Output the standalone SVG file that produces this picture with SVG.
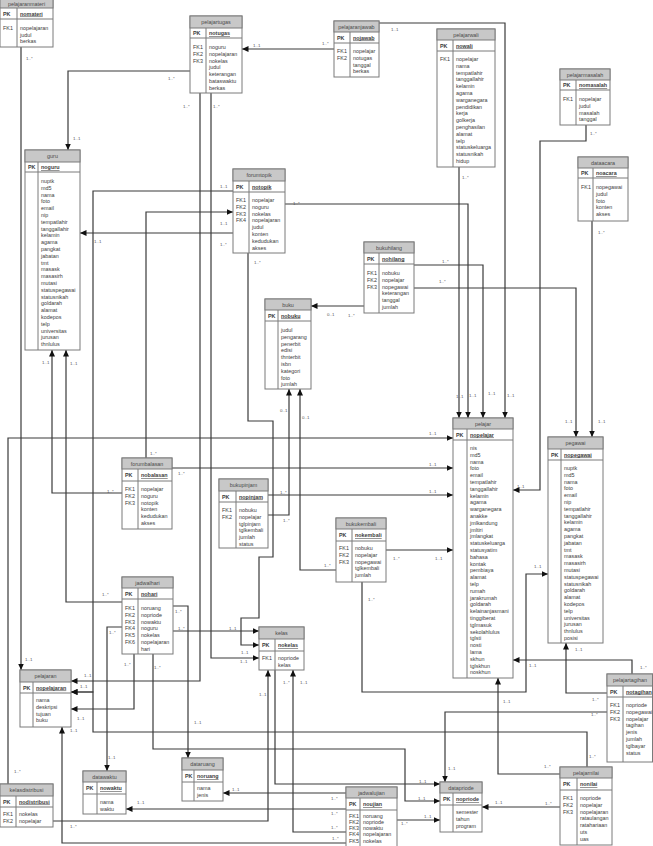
<svg xmlns="http://www.w3.org/2000/svg" width="653" height="846" viewBox="0 0 653 846">
<defs>
<style>
.box{fill:#fff;stroke:#7a7a7a;stroke-width:1}
.hdr{fill:#c8c8c8;stroke:#7a7a7a;stroke-width:1}
.sep{fill:none;stroke:#7a7a7a;stroke-width:1}
text{font-family:"Liberation Sans",Arial,sans-serif;font-size:5.4px;fill:#3c3c3c}
.t{text-anchor:middle;fill:#4a4a4a}
.k{font-weight:bold}
.pk{font-weight:bold;text-decoration:underline}
.c{fill:none;stroke:#3a3a3a;stroke-width:1.2;marker-end:url(#arr)}
.lb{font-size:4.4px;fill:#555}
</style>
<marker id="arr" markerUnits="userSpaceOnUse" markerWidth="7" markerHeight="6" refX="6.5" refY="3" orient="auto">
<path d="M0,0 L6.5,3 L0,6 z" fill="#111"/>
</marker>
</defs>
<rect x="0" y="0" width="653" height="846" fill="#fff"/>

<g id="connectors">
<path class="c" d="M21,47 V670"/>
<path class="c" d="M190,71 H68 V150"/>
<path class="c" d="M334,49 H242"/>
<path class="c" d="M200,93 V681 H71"/>
<path class="c" d="M211,93 V658 H259"/>
<path class="c" d="M379,23 H505 V418"/>
<path class="c" d="M459,167 V418"/>
<path class="c" d="M586,125 V141 H540 V490 H513"/>
<path class="c" d="M592,221 V437"/>
<path class="c" d="M233,233 H80"/>
<path class="c" d="M146,458 V212 H233"/>
<path class="c" d="M233,191 H93 V692 H71"/>
<path class="c" d="M285,204 H468 V418"/>
<path class="c" d="M248,253 V421 H273 V557 H259 V618 H241 V645 H259"/>
<path class="c" d="M364,306 H311"/>
<path class="c" d="M414,265 H483 V418"/>
<path class="c" d="M414,288 H576 V437"/>
<path class="c" d="M122,493 H52 V350"/>
<path class="c" d="M122,602 H66 V350"/>
<path class="c" d="M8,784 V438 H453"/>
<path class="c" d="M172,468 H453"/>
<path class="c" d="M268,495 H453"/>
<path class="c" d="M268,515 H289 V389"/>
<path class="c" d="M336,570 H300 V389"/>
<path class="c" d="M386,550 H453"/>
<path class="c" d="M362,582 V692 H526 V574 H548"/>
<path class="c" d="M173,631 H259"/>
<path class="c" d="M173,606 H188 V758"/>
<path class="c" d="M122,627 H107 V771"/>
<path class="c" d="M134,654 V709 H71"/>
<path class="c" d="M153,654 V749 H405 V801 H440"/>
<path class="c" d="M275,670 V784 H440"/>
<path class="c" d="M53,821 H268 V670"/>
<path class="c" d="M346,832 H293 V670"/>
<path class="c" d="M346,793 H223"/>
<path class="c" d="M346,809 H126"/>
<path class="c" d="M346,843 H62 V727"/>
<path class="c" d="M397,820 H440"/>
<path class="c" d="M560,807 H482"/>
<path class="c" d="M560,774 H498 V678"/>
<path class="c" d="M587,767 V732 H93 V692 H71"/>
<path class="c" d="M607,712 H445 V782"/>
<path class="c" d="M632,674 V660 H513"/>
<path class="c" d="M607,693 H566 V643"/>

<text class="lb" x="26" y="60">1..*</text><text class="lb" x="25" y="661">1..1</text>
<text class="lb" x="168" y="80">1..*</text><text class="lb" x="73" y="140">1..1</text>
<text class="lb" x="253" y="47">1..1</text><text class="lb" x="322" y="45">1..*</text>
<text class="lb" x="183" y="108">1..*</text><text class="lb" x="84" y="677">1..1</text>
<text class="lb" x="213" y="108">1..*</text><text class="lb" x="240" y="663">1..1</text>
<text class="lb" x="391" y="31">1..1</text><text class="lb" x="507" y="397">1..1</text>
<text class="lb" x="462" y="179">1..*</text><text class="lb" x="456" y="398">1..1</text>
<text class="lb" x="590" y="135">1..*</text><text class="lb" x="517" y="488">1..1</text>
<text class="lb" x="598" y="234">1..*</text><text class="lb" x="598" y="423">1..1</text>
<text class="lb" x="220" y="246">1..*</text><text class="lb" x="94" y="243">1..1</text>
<text class="lb" x="150" y="455">1..*</text><text class="lb" x="220" y="225">1..1</text>
<text class="lb" x="220" y="188">1..1</text><text class="lb" x="80" y="688">1..1</text>
<text class="lb" x="293" y="205">1..*</text><text class="lb" x="469" y="397">1..1</text>
<text class="lb" x="254" y="264">1..*</text><text class="lb" x="241" y="654">1..1</text>
<text class="lb" x="327" y="316">0..1</text><text class="lb" x="348" y="317">1..*</text>
<text class="lb" x="442" y="263">1..*</text><text class="lb" x="488" y="395">1..1</text>
<text class="lb" x="439" y="283">1..*</text><text class="lb" x="565" y="423">1..1</text>
<text class="lb" x="107" y="493">1..*</text><text class="lb" x="42" y="364">1..1</text>
<text class="lb" x="102" y="596">1..*</text><text class="lb" x="70" y="365">1..1</text>
<text class="lb" x="14" y="773">1..*</text><text class="lb" x="429" y="435">1..1</text>
<text class="lb" x="178" y="475">1..*</text><text class="lb" x="429" y="466">1..1</text>
<text class="lb" x="280" y="494">1..*</text><text class="lb" x="429" y="493">1..1</text>
<text class="lb" x="283" y="522">1..*</text><text class="lb" x="280" y="412">0..1</text>
<text class="lb" x="324" y="567">1..*</text><text class="lb" x="302" y="419">0..1</text>
<text class="lb" x="393" y="560">1..*</text><text class="lb" x="435" y="560">1..1</text>
<text class="lb" x="368" y="601">1..*</text><text class="lb" x="534" y="568">1..1</text>
<text class="lb" x="178" y="630">1..*</text><text class="lb" x="229" y="630">1..1</text>
<text class="lb" x="175" y="613">1..*</text><text class="lb" x="194" y="724">1..1</text>
<text class="lb" x="109" y="634">1..*</text><text class="lb" x="108" y="759">1..1</text>
<text class="lb" x="124" y="666">1..*</text><text class="lb" x="77" y="720">1..1</text>
<text class="lb" x="154" y="669">1..*</text><text class="lb" x="418" y="800">1..1</text>
<text class="lb" x="283" y="684">1..*</text><text class="lb" x="419" y="783">1..1</text>
<text class="lb" x="70" y="828">1..*</text><text class="lb" x="259" y="696">1..1</text>
<text class="lb" x="331" y="829">1..*</text><text class="lb" x="300" y="684">1..1</text>
<text class="lb" x="331" y="800">1..*</text><text class="lb" x="232" y="791">1..1</text>
<text class="lb" x="331" y="815">1..*</text><text class="lb" x="137" y="804">1..1</text>
<text class="lb" x="332" y="840">1..*</text><text class="lb" x="70" y="732">1..1</text>
<text class="lb" x="401" y="825">1..*</text><text class="lb" x="424" y="818">1..1</text>
<text class="lb" x="545" y="805">1..*</text><text class="lb" x="495" y="804">1..1</text>
<text class="lb" x="544" y="768">1..*</text><text class="lb" x="503" y="703">1..1</text>
<text class="lb" x="589" y="758">1..*</text>
<text class="lb" x="591" y="716">1..*</text><text class="lb" x="448" y="770">1..1</text>
<text class="lb" x="640" y="669">1..*</text><text class="lb" x="529" y="667">1..1</text>
<text class="lb" x="592" y="701">1..*</text><text class="lb" x="575" y="651">1..1</text>
</g>

<g id="pelajaranmateri">
<rect class="box" x="0" y="-1" width="53" height="48"/><rect class="hdr" x="0" y="-1" width="53" height="9"/>
<path class="sep" d="M0,19 H53 M17,8 V47"/>
<text class="t" x="26.5" y="5.5">pelajaranmateri</text>
<text class="k" x="3" y="15.5">PK</text><text class="pk" x="20" y="15.5">nomateri</text>
<text x="3" y="29.7">FK1</text>
<text y="29.7"><tspan x="20">nopelajaran</tspan><tspan x="20" dy="6.8">judul</tspan><tspan x="20" dy="6.8">berkas</tspan></text>
</g>

<g id="pelajartugas">
<rect class="box" x="190" y="16" width="52" height="77"/><rect class="hdr" x="190" y="16" width="52" height="12"/>
<path class="sep" d="M190,38 H242 M206,28 V93"/>
<text class="t" x="216" y="24">pelajartugas</text>
<text class="k" x="193" y="35">PK</text><text class="pk" x="209" y="35">notugas</text>
<text y="49"><tspan x="193">FK1</tspan><tspan x="193" dy="6.8">FK2</tspan><tspan x="193" dy="6.8">FK3</tspan></text>
<text y="49"><tspan x="209">noguru</tspan><tspan x="209" dy="6.8">nopelajaran</tspan><tspan x="209" dy="6.8">nokelas</tspan><tspan x="209" dy="6.8">judul</tspan><tspan x="209" dy="6.8">keterangan</tspan><tspan x="209" dy="6.8">bataswaktu</tspan><tspan x="209" dy="6.8">berkas</tspan></text>
</g>

<g id="pelajaranjawab">
<rect class="box" x="334" y="21" width="45" height="56"/><rect class="hdr" x="334" y="21" width="45" height="11"/>
<path class="sep" d="M334,43 H379 M350,32 V77"/>
<text class="t" x="356.5" y="28.5">pelajaranjawab</text>
<text class="k" x="337" y="39.5">PK</text><text class="pk" x="353" y="39.5">nojawab</text>
<text y="53"><tspan x="337">FK1</tspan><tspan x="337" dy="6.8">FK2</tspan></text>
<text y="53"><tspan x="353">nopelajar</tspan><tspan x="353" dy="6.8">notugas</tspan><tspan x="353" dy="6.8">tanggal</tspan><tspan x="353" dy="6.8">berkas</tspan></text>
</g>

<g id="pelajarwali">
<rect class="box" x="437" y="29" width="58" height="138"/><rect class="hdr" x="437" y="29" width="58" height="11"/>
<path class="sep" d="M437,51 H495 M453,40 V167"/>
<text class="t" x="466" y="36.5">pelajarwali</text>
<text class="k" x="440" y="47.5">PK</text><text class="pk" x="456" y="47.5">nowali</text>
<text x="440" y="61">FK1</text>
<text y="61"><tspan x="456">nopelajar</tspan><tspan x="456" dy="6.8">nama</tspan><tspan x="456" dy="6.8">tempatlahir</tspan><tspan x="456" dy="6.8">tanggallahir</tspan><tspan x="456" dy="6.8">kelamin</tspan><tspan x="456" dy="6.8">agama</tspan><tspan x="456" dy="6.8">warganegara</tspan><tspan x="456" dy="6.8">pendidikan</tspan><tspan x="456" dy="6.8">kerja</tspan><tspan x="456" dy="6.8">golkerja</tspan><tspan x="456" dy="6.8">penghasilan</tspan><tspan x="456" dy="6.8">alamat</tspan><tspan x="456" dy="6.8">telp</tspan><tspan x="456" dy="6.8">statuskeluarga</tspan><tspan x="456" dy="6.8">statusnikah</tspan><tspan x="456" dy="6.8">hidup</tspan></text>
</g>

<g id="pelajarmasalah">
<rect class="box" x="560" y="69" width="50" height="56"/><rect class="hdr" x="560" y="69" width="50" height="11"/>
<path class="sep" d="M560,90 H610 M576,80 V125"/>
<text class="t" x="585" y="76.5">pelajarmasalah</text>
<text class="k" x="563" y="87">PK</text><text class="pk" x="579" y="87">nomasalah</text>
<text x="563" y="101">FK1</text>
<text y="101"><tspan x="579">nopelajar</tspan><tspan x="579" dy="6.8">judul</tspan><tspan x="579" dy="6.8">masalah</tspan><tspan x="579" dy="6.8">tanggal</tspan></text>
</g>

<g id="dataacara">
<rect class="box" x="578" y="157" width="50" height="64"/><rect class="hdr" x="578" y="157" width="50" height="11"/>
<path class="sep" d="M578,178 H628 M593,168 V221"/>
<text class="t" x="603" y="164.5">dataacara</text>
<text class="k" x="581" y="175">PK</text><text class="pk" x="596" y="175">noacara</text>
<text x="581" y="189">FK1</text>
<text y="189"><tspan x="596">nopegawai</tspan><tspan x="596" dy="6.8">judul</tspan><tspan x="596" dy="6.8">foto</tspan><tspan x="596" dy="6.8">konten</tspan><tspan x="596" dy="6.8">akses</tspan></text>
</g>

<g id="guru">
<rect class="box" x="25" y="150" width="55" height="200"/><rect class="hdr" x="25" y="150" width="55" height="12"/>
<path class="sep" d="M25,172 H80 M38,162 V350"/>
<text class="t" x="52.5" y="158">guru</text>
<text class="k" x="28" y="169">PK</text><text class="pk" x="41" y="169">noguru</text>
<text y="183"><tspan x="41">nuptk</tspan><tspan x="41" dy="6.8">md5</tspan><tspan x="41" dy="6.8">nama</tspan><tspan x="41" dy="6.8">foto</tspan><tspan x="41" dy="6.8">email</tspan><tspan x="41" dy="6.8">nip</tspan><tspan x="41" dy="6.8">tempatlahir</tspan><tspan x="41" dy="6.8">tanggallahir</tspan><tspan x="41" dy="6.8">kelamin</tspan><tspan x="41" dy="6.8">agama</tspan><tspan x="41" dy="6.8">pangkat</tspan><tspan x="41" dy="6.8">jabatan</tspan><tspan x="41" dy="6.8">tmt</tspan><tspan x="41" dy="6.8">masask</tspan><tspan x="41" dy="6.8">masasirh</tspan><tspan x="41" dy="6.8">mutasi</tspan><tspan x="41" dy="6.8">statuspegawai</tspan><tspan x="41" dy="6.8">statusnikah</tspan><tspan x="41" dy="6.8">goldarah</tspan><tspan x="41" dy="6.8">alamat</tspan><tspan x="41" dy="6.8">kodepos</tspan><tspan x="41" dy="6.8">telp</tspan><tspan x="41" dy="6.8">universitas</tspan><tspan x="41" dy="6.8">jurusan</tspan><tspan x="41" dy="6.8">thnlulus</tspan></text>
</g>

<g id="forumtopik">
<rect class="box" x="233" y="169" width="52" height="84"/><rect class="hdr" x="233" y="169" width="52" height="12"/>
<path class="sep" d="M233,192 H285 M249,181 V253"/>
<text class="t" x="259" y="177">forumtopik</text>
<text class="k" x="236" y="188.5">PK</text><text class="pk" x="252" y="188.5">notopik</text>
<text y="202"><tspan x="236">FK1</tspan><tspan x="236" dy="6.8">FK2</tspan><tspan x="236" dy="6.8">FK3</tspan><tspan x="236" dy="6.8">FK4</tspan></text>
<text y="202"><tspan x="252">nopelajar</tspan><tspan x="252" dy="6.8">noguru</tspan><tspan x="252" dy="6.8">nokelas</tspan><tspan x="252" dy="6.8">nopelajaran</tspan><tspan x="252" dy="6.8">judul</tspan><tspan x="252" dy="6.8">konten</tspan><tspan x="252" dy="6.8">kedudukan</tspan><tspan x="252" dy="6.8">akses</tspan></text>
</g>

<g id="bukuhilang">
<rect class="box" x="364" y="242" width="50" height="71"/><rect class="hdr" x="364" y="242" width="50" height="11"/>
<path class="sep" d="M364,264 H414 M379,253 V313"/>
<text class="t" x="389" y="249.5">bukuhilang</text>
<text class="k" x="367" y="260.5">PK</text><text class="pk" x="382" y="260.5">nohilang</text>
<text y="275"><tspan x="367">FK1</tspan><tspan x="367" dy="6.8">FK2</tspan><tspan x="367" dy="6.8">FK3</tspan></text>
<text y="275"><tspan x="382">nobuku</tspan><tspan x="382" dy="6.8">nopelajar</tspan><tspan x="382" dy="6.8">nopegawai</tspan><tspan x="382" dy="6.8">keterangan</tspan><tspan x="382" dy="6.8">tanggal</tspan><tspan x="382" dy="6.8">jumlah</tspan></text>
</g>

<g id="buku">
<rect class="box" x="265" y="299" width="46" height="90"/><rect class="hdr" x="265" y="299" width="46" height="11"/>
<path class="sep" d="M265,321 H311 M278,310 V389"/>
<text class="t" x="288" y="306.5">buku</text>
<text class="k" x="268" y="317.5">PK</text><text class="pk" x="281" y="317.5">nobuku</text>
<text y="332"><tspan x="281">judul</tspan><tspan x="281" dy="6.8">pengarang</tspan><tspan x="281" dy="6.8">penerbit</tspan><tspan x="281" dy="6.8">edisi</tspan><tspan x="281" dy="6.8">thnterbit</tspan><tspan x="281" dy="6.8">isbn</tspan><tspan x="281" dy="6.8">kategori</tspan><tspan x="281" dy="6.8">foto</tspan><tspan x="281" dy="6.8">jumlah</tspan></text>
</g>

<g id="pelajar">
<rect class="box" x="453" y="418" width="60" height="260"/><rect class="hdr" x="453" y="418" width="60" height="11"/>
<path class="sep" d="M453,440 H513 M467,429 V678"/>
<text class="t" x="483" y="425.5">pelajar</text>
<text class="k" x="456" y="436.5">PK</text><text class="pk" x="470" y="436.5">nopelajar</text>
<text y="450"><tspan x="470">nis</tspan><tspan x="470" dy="6.8">md5</tspan><tspan x="470" dy="6.8">nama</tspan><tspan x="470" dy="6.8">foto</tspan><tspan x="470" dy="6.8">email</tspan><tspan x="470" dy="6.8">tempatlahir</tspan><tspan x="470" dy="6.8">tanggallahir</tspan><tspan x="470" dy="6.8">kelamin</tspan><tspan x="470" dy="6.8">agama</tspan><tspan x="470" dy="6.8">warganegara</tspan><tspan x="470" dy="6.8">anakke</tspan><tspan x="470" dy="6.8">jmlkandung</tspan><tspan x="470" dy="6.8">jmltiri</tspan><tspan x="470" dy="6.8">jmlangkat</tspan><tspan x="470" dy="6.8">statuskeluarga</tspan><tspan x="470" dy="6.8">statusyatim</tspan><tspan x="470" dy="6.8">bahasa</tspan><tspan x="470" dy="6.8">kontak</tspan><tspan x="470" dy="6.8">pembiaya</tspan><tspan x="470" dy="6.8">alamat</tspan><tspan x="470" dy="6.8">telp</tspan><tspan x="470" dy="6.8">rumah</tspan><tspan x="470" dy="6.8">jarakrumah</tspan><tspan x="470" dy="6.8">goldarah</tspan><tspan x="470" dy="6.8">kelainanjasmani</tspan><tspan x="470" dy="6.8">tinggiberat</tspan><tspan x="470" dy="6.8">tglmasuk</tspan><tspan x="470" dy="6.8">sekolahlulus</tspan><tspan x="470" dy="6.8">tglsti</tspan><tspan x="470" dy="6.8">nosti</tspan><tspan x="470" dy="6.8">lama</tspan><tspan x="470" dy="6.8">skhun</tspan><tspan x="470" dy="6.8">tglskhun</tspan><tspan x="470" dy="6.8">noskhun</tspan></text>
</g>

<g id="pegawai">
<rect class="box" x="548" y="437" width="55" height="206"/><rect class="hdr" x="548" y="437" width="55" height="12"/>
<path class="sep" d="M548,460 H603 M561,449 V643"/>
<text class="t" x="575.5" y="445">pegawai</text>
<text class="k" x="551" y="456.5">PK</text><text class="pk" x="564" y="456.5">nopegawai</text>
<text y="470"><tspan x="564">nuptk</tspan><tspan x="564" dy="6.8">md5</tspan><tspan x="564" dy="6.8">nama</tspan><tspan x="564" dy="6.8">foto</tspan><tspan x="564" dy="6.8">email</tspan><tspan x="564" dy="6.8">nip</tspan><tspan x="564" dy="6.8">tempatlahir</tspan><tspan x="564" dy="6.8">tanggallahir</tspan><tspan x="564" dy="6.8">kelamin</tspan><tspan x="564" dy="6.8">agama</tspan><tspan x="564" dy="6.8">pangkat</tspan><tspan x="564" dy="6.8">jabatan</tspan><tspan x="564" dy="6.8">tmt</tspan><tspan x="564" dy="6.8">masask</tspan><tspan x="564" dy="6.8">masasirh</tspan><tspan x="564" dy="6.8">mutasi</tspan><tspan x="564" dy="6.8">statuspegawai</tspan><tspan x="564" dy="6.8">statusnikah</tspan><tspan x="564" dy="6.8">goldarah</tspan><tspan x="564" dy="6.8">alamat</tspan><tspan x="564" dy="6.8">kodepos</tspan><tspan x="564" dy="6.8">telp</tspan><tspan x="564" dy="6.8">universitas</tspan><tspan x="564" dy="6.8">jurusan</tspan><tspan x="564" dy="6.8">thnlulus</tspan><tspan x="564" dy="6.8">posisi</tspan></text>
</g>

<g id="forumbalasan">
<rect class="box" x="122" y="458" width="50" height="71"/><rect class="hdr" x="122" y="458" width="50" height="11"/>
<path class="sep" d="M122,481 H172 M138,469 V529"/>
<text class="t" x="147" y="465.5">forumbalasan</text>
<text class="k" x="125" y="477">PK</text><text class="pk" x="141" y="477">nobalasan</text>
<text y="491"><tspan x="125">FK1</tspan><tspan x="125" dy="6.8">FK2</tspan><tspan x="125" dy="6.8">FK3</tspan></text>
<text y="491"><tspan x="141">nopelajar</tspan><tspan x="141" dy="6.8">noguru</tspan><tspan x="141" dy="6.8">notopik</tspan><tspan x="141" dy="6.8">konten</tspan><tspan x="141" dy="6.8">kedudukan</tspan><tspan x="141" dy="6.8">akses</tspan></text>
</g>

<g id="bukupinjam">
<rect class="box" x="219" y="479" width="49" height="69"/><rect class="hdr" x="219" y="479" width="49" height="12"/>
<path class="sep" d="M219,502 H268 M236,491 V548"/>
<text class="t" x="243.5" y="487">bukupinjam</text>
<text class="k" x="222" y="498.5">PK</text><text class="pk" x="239" y="498.5">nopinjam</text>
<text y="512"><tspan x="222">FK1</tspan><tspan x="222" dy="6.8">FK2</tspan></text>
<text y="512"><tspan x="239">nobuku</tspan><tspan x="239" dy="6.8">nopelajar</tspan><tspan x="239" dy="6.8">tglpinjam</tspan><tspan x="239" dy="6.8">tglkembali</tspan><tspan x="239" dy="6.8">jumlah</tspan><tspan x="239" dy="6.8">status</tspan></text>
</g>

<g id="bukukembali">
<rect class="box" x="336" y="518" width="50" height="64"/><rect class="hdr" x="336" y="518" width="50" height="11"/>
<path class="sep" d="M336,541 H386 M352,529 V582"/>
<text class="t" x="361" y="525.5">bukukembali</text>
<text class="k" x="339" y="537">PK</text><text class="pk" x="355" y="537">nokembali</text>
<text y="550"><tspan x="339">FK1</tspan><tspan x="339" dy="6.8">FK2</tspan><tspan x="339" dy="6.8">FK3</tspan></text>
<text y="550"><tspan x="355">nobuku</tspan><tspan x="355" dy="6.8">nopelajar</tspan><tspan x="355" dy="6.8">nopegawai</tspan><tspan x="355" dy="6.8">tglkembali</tspan><tspan x="355" dy="6.8">jumlah</tspan></text>
</g>

<g id="jadwalhari">
<rect class="box" x="122" y="577" width="51" height="77"/><rect class="hdr" x="122" y="577" width="51" height="11"/>
<path class="sep" d="M122,599 H173 M138,588 V654"/>
<text class="t" x="147.5" y="584.5">jadwalhari</text>
<text class="k" x="125" y="595.5">PK</text><text class="pk" x="141" y="595.5">nohari</text>
<text y="610"><tspan x="125">FK1</tspan><tspan x="125" dy="6.8">FK2</tspan><tspan x="125" dy="6.8">FK3</tspan><tspan x="125" dy="6.8">FK4</tspan><tspan x="125" dy="6.8">FK5</tspan><tspan x="125" dy="6.8">FK6</tspan></text>
<text y="610"><tspan x="141">noruang</tspan><tspan x="141" dy="6.8">nopriode</tspan><tspan x="141" dy="6.8">nowaktu</tspan><tspan x="141" dy="6.8">noguru</tspan><tspan x="141" dy="6.8">nokelas</tspan><tspan x="141" dy="6.8">nopelajaran</tspan><tspan x="141" dy="6.8">hari</tspan></text>
</g>

<g id="kelas">
<rect class="box" x="259" y="627" width="45" height="43"/><rect class="hdr" x="259" y="627" width="45" height="12"/>
<path class="sep" d="M259,651 H304 M275,639 V670"/>
<text class="t" x="281.5" y="635">kelas</text>
<text class="k" x="262" y="647">PK</text><text class="pk" x="278" y="647">nokelas</text>
<text x="262" y="660">FK1</text>
<text y="660"><tspan x="278">nopriode</tspan><tspan x="278" dy="6.8">kelas</tspan></text>
</g>

<g id="pelajaran">
<rect class="box" x="20" y="670" width="51" height="57"/><rect class="hdr" x="20" y="670" width="51" height="12"/>
<path class="sep" d="M20,693 H71 M33,682 V727"/>
<text class="t" x="45.5" y="678">pelajaran</text>
<text class="k" x="23" y="689.5">PK</text><text class="pk" x="36" y="689.5">nopelajaran</text>
<text y="702"><tspan x="36">nama</tspan><tspan x="36" dy="6.8">deskripsi</tspan><tspan x="36" dy="6.8">tujuan</tspan><tspan x="36" dy="6.8">buku</tspan></text>
</g>

<g id="datawaktu">
<rect class="box" x="83" y="771" width="43" height="43"/><rect class="hdr" x="83" y="771" width="43" height="11"/>
<path class="sep" d="M83,794 H126 M97,782 V814"/>
<text class="t" x="104.5" y="778.5">datawaktu</text>
<text class="k" x="86" y="790">PK</text><text class="pk" x="100" y="790">nowaktu</text>
<text y="804"><tspan x="100">nama</tspan><tspan x="100" dy="6.8">waktu</tspan></text>
</g>

<g id="dataruang">
<rect class="box" x="182" y="758" width="41" height="43"/><rect class="hdr" x="182" y="758" width="41" height="12"/>
<path class="sep" d="M182,782 H223 M194,770 V801"/>
<text class="t" x="202.5" y="766">dataruang</text>
<text class="k" x="185" y="778">PK</text><text class="pk" x="197" y="778">noruang</text>
<text y="790"><tspan x="197">nama</tspan><tspan x="197" dy="6.8">jenis</tspan></text>
</g>

<g id="kelasdistribusi">
<rect class="box" x="0" y="784" width="53" height="43"/><rect class="hdr" x="0" y="784" width="53" height="12"/>
<path class="sep" d="M0,807 H53 M16,796 V827"/>
<text class="t" x="26.5" y="792">kelasdistribusi</text>
<text class="k" x="3" y="803.5">PK</text><text class="pk" x="19" y="803.5">nodistribusi</text>
<text y="816"><tspan x="3">FK1</tspan><tspan x="3" dy="6.8">FK2</tspan></text>
<text y="816"><tspan x="19">nokelas</tspan><tspan x="19" dy="6.8">nopelajar</tspan></text>
</g>

<g id="jadwalujian">
<rect class="box" x="346" y="787" width="51" height="65"/><rect class="hdr" x="346" y="787" width="51" height="11"/>
<path class="sep" d="M346,810 H397 M360,798 V852"/>
<text class="t" x="371.5" y="794.5">jadwalujian</text>
<text class="k" x="349" y="806">PK</text><text class="pk" x="363" y="806">noujian</text>
<text y="817.5"><tspan x="349">FK1</tspan><tspan x="349" dy="6.3">FK2</tspan><tspan x="349" dy="6.3">FK3</tspan><tspan x="349" dy="6.3">FK4</tspan><tspan x="349" dy="6.3">FK5</tspan></text>
<text y="817.5"><tspan x="363">noruang</tspan><tspan x="363" dy="6.3">nopriode</tspan><tspan x="363" dy="6.3">nowaktu</tspan><tspan x="363" dy="6.3">nopelajaran</tspan><tspan x="363" dy="6.3">nokelas</tspan></text>
</g>

<g id="datapriode">
<rect class="box" x="440" y="782" width="42" height="50"/><rect class="hdr" x="440" y="782" width="42" height="11"/>
<path class="sep" d="M440,805 H482 M453,793 V832"/>
<text class="t" x="461" y="789.5">datapriode</text>
<text class="k" x="443" y="801">PK</text><text class="pk" x="456" y="801">nopriode</text>
<text y="814"><tspan x="456">semester</tspan><tspan x="456" dy="6.8">tahun</tspan><tspan x="456" dy="6.8">program</tspan></text>
</g>

<g id="pelajarnilai">
<rect class="box" x="560" y="767" width="52" height="78"/><rect class="hdr" x="560" y="767" width="52" height="11"/>
<path class="sep" d="M560,790 H612 M577,778 V845"/>
<text class="t" x="586" y="774.5">pelajarnilai</text>
<text class="k" x="563" y="786">PK</text><text class="pk" x="580" y="786">nonilai</text>
<text y="800"><tspan x="563">FK1</tspan><tspan x="563" dy="6.8">FK2</tspan><tspan x="563" dy="6.8">FK3</tspan></text>
<text y="800"><tspan x="580">nopriode</tspan><tspan x="580" dy="6.8">nopelajar</tspan><tspan x="580" dy="6.8">nopelajaran</tspan><tspan x="580" dy="6.8">rataulangan</tspan><tspan x="580" dy="6.8">ratahariaan</tspan><tspan x="580" dy="6.8">uts</tspan><tspan x="580" dy="6.8">uas</tspan></text>
</g>

<g id="pelajartagihan">
<rect class="box" x="607" y="674" width="45.5" height="88"/><rect class="hdr" x="607" y="674" width="45.5" height="12"/>
<path class="sep" d="M607,697 H652.5 M623,686 V762"/>
<text class="t" x="630" y="682">pelajartagihan</text>
<text class="k" x="610" y="693.5">PK</text><text class="pk" x="626" y="693.5">notagihan</text>
<text y="707"><tspan x="610">FK1</tspan><tspan x="610" dy="6.8">FK2</tspan><tspan x="610" dy="6.8">FK3</tspan></text>
<text y="707"><tspan x="626">nopriode</tspan><tspan x="626" dy="6.8">nopegawai</tspan><tspan x="626" dy="6.8">nopelajar</tspan><tspan x="626" dy="6.8">tagihan</tspan><tspan x="626" dy="6.8">jenis</tspan><tspan x="626" dy="6.8">jumlah</tspan><tspan x="626" dy="6.8">tglbayar</tspan><tspan x="626" dy="6.8">status</tspan></text>
</g>
</svg>
